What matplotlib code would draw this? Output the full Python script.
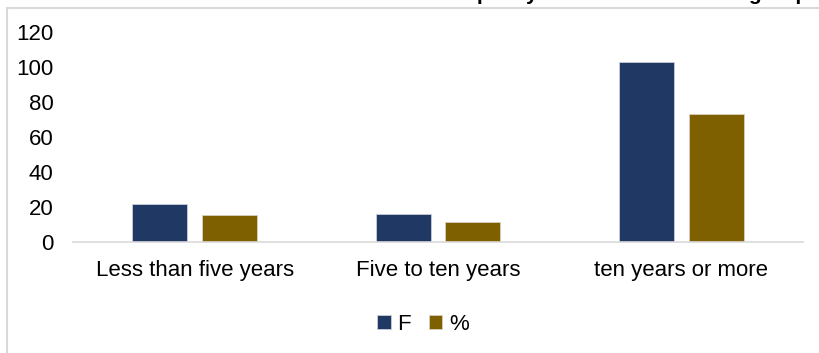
import numpy as np
import matplotlib.pyplot as plt
from matplotlib.patches import Rectangle

# data
categories = ["Less than five years", "Five to ten years", "ten years or more"]
freq = [22, 16, 103]
percent = [15.6, 11.3, 73.0]
yticks = [0, 20, 40, 60, 80, 100, 120]

F_COLOR = "#1F3864"
P_COLOR = "#7F6000"

plt.rcParams["font.family"] = ["Liberation Sans", "DejaVu Sans"]

W, H = 820, 353
fig = plt.figure(figsize=(W / 100, H / 100), dpi=100)

# chart area border (cut by the image edges)
fig.patches.append(Rectangle((7 / W, -0.1), 1.2, 1.1 - 8 / H,
                             transform=fig.transFigure, fill=False,
                             edgecolor="#D9D9D9", linewidth=1.5))

# title sits above the crop, only the descenders show
fig.text(808 / W, 1 + 0.5 / H, "Distribution of the sample by work duration in the group",
         ha="right", va="baseline", fontsize=15, fontweight="bold")

ax = fig.add_axes([73 / W, 1 - 242 / H, 730 / W, 210 / H])
x = np.arange(len(categories))
bw = 0.226
ax.bar(x - 0.143, freq, bw, color=F_COLOR, edgecolor="#C9CED8", linewidth=0.6, label="F")
ax.bar(x + 0.143, percent, bw, color=P_COLOR, edgecolor="#D8CFC0", linewidth=0.6, label="%")

ax.set_xlim(-0.5, 2.5)
ax.set_ylim(0, 120)
ax.set_yticks(yticks)
ax.set_xticks(x)
ax.set_xticklabels(categories)
ax.tick_params(axis="both", length=0, labelsize=16)
ax.tick_params(axis="y", pad=14)
ax.tick_params(axis="x", pad=13)
for s in ["left", "right", "top"]:
    ax.spines[s].set_visible(False)
ax.spines["bottom"].set_color("#D9D9D9")
ax.spines["bottom"].set_linewidth(1.2)
ax.patch.set_alpha(0)

handles, labels = ax.get_legend_handles_labels()
fig.legend(handles, labels, loc="center", bbox_to_anchor=(423 / W, 1 - 324 / H),
           ncol=2, frameon=False, fontsize=16, handlelength=0.6, handleheight=0.6,
           handletextpad=0.3, columnspacing=0.8)

fig.savefig("out.png", dpi=100)
